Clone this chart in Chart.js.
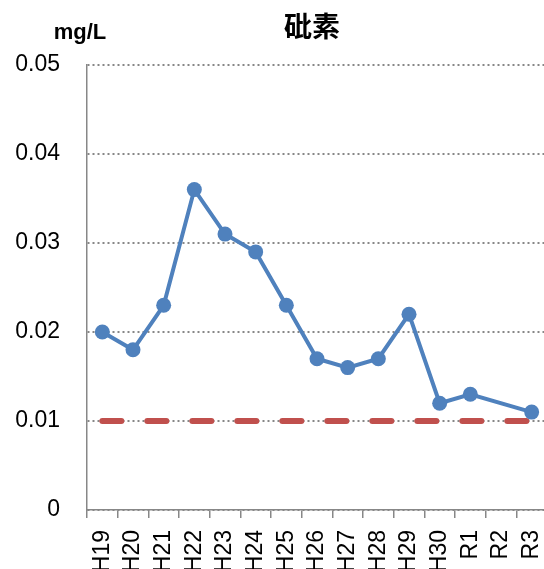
<!DOCTYPE html>
<html>
<head>
<meta charset="utf-8">
<script src="https://cdn.jsdelivr.net/npm/chart.js@4/dist/chart.umd.min.js"></script>
<style>
  html, body { margin: 0; padding: 0; background: #fff; overflow: hidden; }
  #wrap { width: 544px; height: 569px; overflow: hidden; }
</style>
</head>
<body>
<div id="wrap"><canvas id="myChart" width="560" height="569"></canvas></div>
<script>
// 年度ラベル
var years = ["H19", "H20", "H21", "H22", "H23", "H24", "H25", "H26", "H27", "H28", "H29", "H30", "R1", "R2", "R3"];

// 砒素 測定値 (mg/L), R2 は欠測
var arsenic = [0.020, 0.018, 0.023, 0.036, 0.031, 0.029, 0.023, 0.017, 0.016, 0.017, 0.022, 0.012, 0.013, null, 0.011];

// 環境基準 (mg/L)
var standard = [0.01, 0.01, 0.01, 0.01, 0.01, 0.01, 0.01, 0.01, 0.01, 0.01, 0.01, 0.01, 0.01, 0.01, 0.01];

// y軸目盛
var yMin = 0, yMax = 0.05, yStep = 0.01;

var chartTitle = "砒素";
var unitLabel = "mg/L";

(function() {
  'use strict';

  var blue = '#4F81BD';
  var red = '#C0504D';
  var gridGray = '#878787';

  // title and unit text, placed relative to the plot area
  var textPlugin = {
    id: 'texts',
    afterDraw: function(chart) {
      var ctx = chart.ctx;
      var area = chart.chartArea;
      ctx.save();
      ctx.fillStyle = '#000';
      ctx.textBaseline = 'middle';
      ctx.textAlign = 'center';
      ctx.font = 'bold 28px "Noto Sans CJK JP"';
      ctx.fillText(chartTitle, area.left + 225, 26);
      ctx.font = 'bold 22px "Liberation Sans"';
      ctx.fillText(unitLabel, 80, 33);
      ctx.restore();
    }
  };

  var ctx = document.getElementById('myChart').getContext('2d');
  var chart = new Chart(ctx, {
    type: 'line',
    data: {
      labels: years,
      datasets: [{
        label: "砒素",
        data: arsenic,
        borderColor: blue,
        backgroundColor: blue,
        borderWidth: 4,
        pointRadius: 7.5,
        pointBorderWidth: 0,
        pointBackgroundColor: blue,
        spanGaps: true,
        tension: 0,
        order: 1
      }, {
        label: "基準値",
        data: standard,
        borderColor: red,
        borderWidth: 6,
        borderDash: [19, 26],
        borderCapStyle: 'round',
        pointRadius: 0,
        tension: 0,
        order: 2
      }]
    },
    options: {
      responsive: false,
      animation: false,
      layout: { padding: { top: 65, right: 13, left: 0, bottom: 0 } },
      plugins: {
        legend: { display: false },
        title: { display: false },
        tooltip: { enabled: false }
      },
      scales: {
        x: {
          offset: true,
          grid: {
            offset: true,
            drawOnChartArea: false,
            drawTicks: true,
            tickLength: 8,
            color: gridGray,
            lineWidth: 1.5
          },
          border: { display: true, color: gridGray, width: 1.5 },
          ticks: {
            autoSkip: false,
            minRotation: 90,
            maxRotation: 90,
            padding: 12,
            color: '#000',
            font: { family: '"Liberation Sans"', size: 23 }
          },
          afterFit: function(scale) {
            scale.height = 59;
            // don't let the rotated labels shrink the plot area
            scale.paddingLeft = 0;
            scale.paddingRight = 0;
          }
        },
        y: {
          min: yMin,
          max: yMax,
          grid: {
            drawTicks: false,
            color: gridGray,
            lineWidth: 2
          },
          // in v4 border.dash sets the dash of the grid lines
          border: { display: true, color: gridGray, width: 1.5, dash: [2, 3] },
          ticks: {
            stepSize: yStep,
            padding: 27,
            color: '#000',
            font: { family: '"Liberation Sans"', size: 23 },
            callback: function(v) { return v === 0 ? '0' : v.toFixed(2); }
          },
          afterFit: function(scale) { scale.width = 87; }
        }
      }
    },
    plugins: [textPlugin]
  });
})();
</script>
</body>
</html>
